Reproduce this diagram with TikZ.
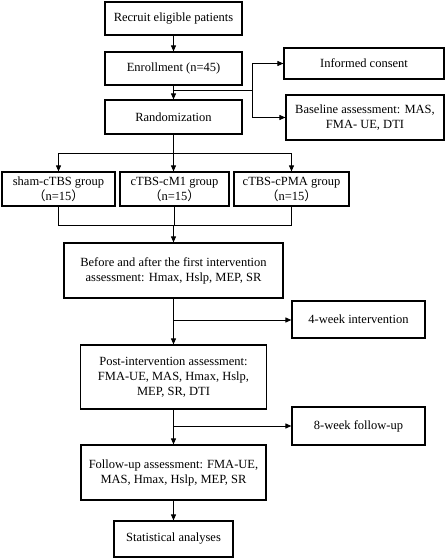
\documentclass[tikz,border=0pt]{standalone}
\usepackage{fontspec}
\setmainfont{Liberation Serif}
\newfontfamily\cjk{Noto Sans CJK SC}
\usetikzlibrary{arrows.meta}
\newcommand{\lp}{{\cjk （}}
\newcommand{\rp}{{\cjk ）}}
\begin{document}
\begin{tikzpicture}[x=1pt,y=-1pt,
  box/.style={draw, line width=1.2pt, rectangle, align=center, inner sep=2pt,
    font=\fontsize{12.5}{15}\selectfont},
  arr/.style={line width=1pt, -{Triangle[length=6pt,width=5pt]}},
  ln/.style={line width=1pt}]
\useasboundingbox (0,0) rectangle (446,560);
\node[box, minimum width=137pt, minimum height=33pt] (recruit) at (173.5,18.5) {Recruit eligible patients};
\node[box, minimum width=137pt, minimum height=33pt] (enroll) at (173.5,68.5) {Enrollment (n=45)};
\node[box, minimum width=137pt, minimum height=34pt] (rand) at (173.5,117) {Randomization};
\node[box, minimum width=160pt, minimum height=31pt] (consent) at (364,63.5) {Informed consent};
\node[box, minimum width=158pt, minimum height=45pt] (base) at (365,117.5) {Baseline assessment: MAS,\\FMA- UE, DTI};
\node[box, minimum width=113pt, minimum height=34pt] (sham) at (58.5,189) {sham-cTBS group\\\lp n=15\rp};
\node[box, minimum width=109pt, minimum height=34pt] (cm1) at (174.5,189) {cTBS-cM1 group\\\lp n=15\rp};
\node[box, minimum width=115pt, minimum height=34pt] (cpma) at (291.5,189) {cTBS-cPMA group\\\lp n=15\rp};
\node[box, minimum width=219pt, minimum height=55pt] (before) at (173.5,270.5) {Before and after the first intervention\\assessment: Hmax, Hslp, MEP, SR};
\node[box, minimum width=133pt, minimum height=37pt] (w4) at (358.5,319.5) {4-week intervention};
\node[box, minimum width=186pt, minimum height=64pt] (post) at (173.5,377) {Post-intervention assessment:\\FMA-UE, MAS, Hmax, Hslp,\\MEP, SR, DTI};
\node[box, minimum width=133pt, minimum height=38pt] (w8) at (358.5,426) {8-week follow-up};
\node[box, minimum width=185pt, minimum height=55pt] (follow) at (173.5,472.5) {Follow-up assessment: FMA-UE,\\MAS, Hmax, Hslp, MEP, SR};
\node[box, minimum width=119pt, minimum height=36pt] (stat) at (173.5,539) {Statistical analyses};
% connectors
\draw[arr] (recruit) -- (enroll);
\draw[arr] (enroll) -- (rand);
\coordinate (b1) at (173.5,90);
\coordinate (bx) at (252,90);
\draw[ln] (b1) -- (bx);
\draw[arr] (bx) |- (consent.west);
\draw[arr] (bx) |- (base.west);
\coordinate (g) at (173.5,153);
\draw[ln] (rand) -- (g);
\draw[arr] (g) -| (sham.north);
\draw[arr] (g) -| (cpma.north);
\draw[arr] (g) -- (g |- cm1.north);
\coordinate (m) at (173.5,225);
\draw[ln] (sham.south) -- (sham.south |- m) -- (cpma.south |- m) -- (cpma.south);
\draw[ln] (cm1.south) -- (cm1.south |- m);
\draw[arr] (m) -- (before.north);
\draw[arr] (before) -- (post);
\coordinate (c4) at (173.5,320);
\draw[arr] (c4) -- (c4 -| w4.west);
\draw[arr] (post) -- (follow);
\coordinate (c8) at (173.5,426);
\draw[arr] (c8) -- (c8 -| w8.west);
\draw[arr] (follow) -- (stat);
\end{tikzpicture}
\end{document}
